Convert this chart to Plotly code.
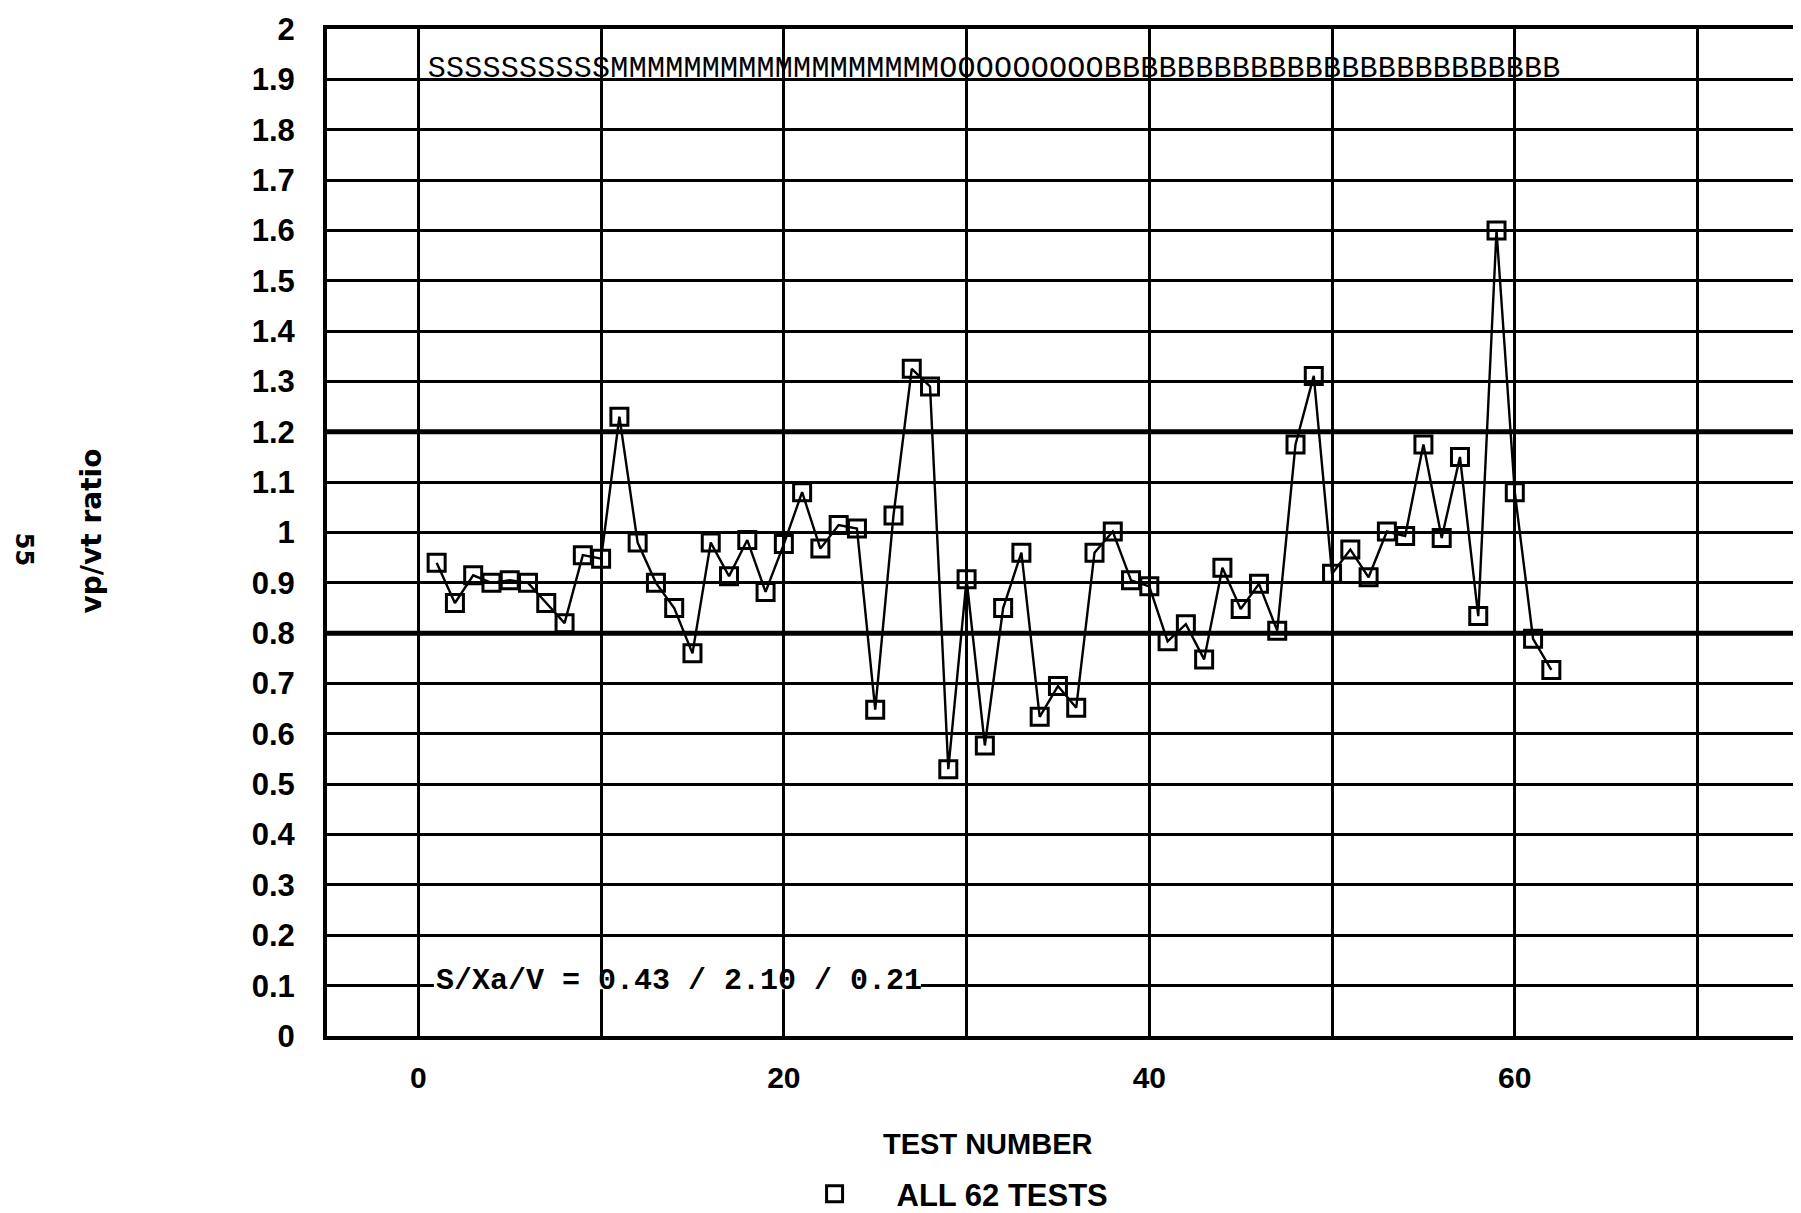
import plotly.graph_objects as go

# ---- data ----
test_number = list(range(1, 63))
vp_vt_ratio = [
    0.94, 0.86, 0.915, 0.90, 0.905, 0.90, 0.86, 0.82, 0.955, 0.948,
    1.23, 0.98, 0.90, 0.85, 0.76, 0.98, 0.913, 0.985, 0.882, 0.977,
    1.08, 0.968, 1.015, 1.008, 0.648, 1.034, 1.325, 1.29, 0.53, 0.907,
    0.577, 0.85, 0.96, 0.634, 0.695, 0.652, 0.96, 1.002, 0.905, 0.893,
    0.784, 0.818, 0.748, 0.93, 0.848, 0.898, 0.805, 1.175, 1.311, 0.918,
    0.966, 0.911, 1.002, 0.993, 1.175, 0.989, 1.15, 0.834, 1.60, 1.08,
    0.789, 0.727,
]
test_codes = list(
    "SSSSSSSSSS"
    + "MMMMMMMMMMMMMMMMMM"
    + "OOOOOOOOO"
    + "BBBBBBBBBBBBBBBBBBBBBBBBB"
)
code_row_y = 1.92
limit_lines = [0.8, 1.2]
x_ticks = [0, 20, 40, 60]
y_ticks = [round(i * 0.1, 1) for i in range(21)]
y_tick_text = ["0", "0.1", "0.2", "0.3", "0.4", "0.5", "0.6", "0.7", "0.8", "0.9",
               "1", "1.1", "1.2", "1.3", "1.4", "1.5", "1.6", "1.7", "1.8", "1.9", "2"]
stats_text = "S/Xa/V = 0.43 / 2.10 / 0.21"
stats_pos = (0.85, 0.109)
legend_name = "ALL 62 TESTS"

BOLD = "Liberation Sans, Arial, sans-serif"

fig = go.Figure()

fig.add_trace(go.Scatter(
    x=test_number, y=vp_vt_ratio, mode="lines",
    line=dict(color="black", width=2.4), showlegend=False, hoverinfo="skip",
))
fig.add_trace(go.Scatter(
    x=test_number, y=vp_vt_ratio, mode="markers", name="     " + legend_name,
    marker=dict(symbol="square-open", size=17, color="black",
                line=dict(color="black", width=3)),
))
fig.add_trace(go.Scatter(
    x=test_number, y=[code_row_y] * len(test_number), mode="text",
    text=test_codes, textposition="middle center",
    textfont=dict(family="Liberation Mono, DejaVu Sans Mono, monospace",
                  size=30, color="black"),
    showlegend=False, hoverinfo="skip",
))

for v in limit_lines:
    fig.add_shape(type="line", xref="paper", yref="y", x0=0, x1=1, y0=v, y1=v,
                  line=dict(color="black", width=5), layer="between")

# mask of the 0.1 grid line under the statistics text
fig.add_shape(type="rect", xref="x", yref="y", x0=stats_pos[0], x1=27.5,
              y0=0.093, y1=0.107, fillcolor="white", line=dict(width=0),
              layer="between")

fig.add_annotation(
    x=stats_pos[0], y=stats_pos[1], xref="x", yref="y", xanchor="left",
    yanchor="middle", text=stats_text, showarrow=False,
    font=dict(family="Liberation Mono, DejaVu Sans Mono, monospace",
              size=30, color="black", weight="bold"),
)

fig.add_annotation(
    x=-0.1586, y=0.502, xref="paper", yref="paper", text="vp/vt ratio",
    textangle=-90, showarrow=False, xanchor="center", yanchor="middle",
    font=dict(family="DejaVu Sans, sans-serif", size=28, color="black",
              weight="bold"),
)
fig.add_annotation(
    x=-0.2045, y=0.483, xref="paper", yref="paper", text="55",
    textangle=90, showarrow=False, xanchor="center", yanchor="middle",
    font=dict(family="DejaVu Sans, sans-serif", size=24, color="black",
              weight="bold"),
)
fig.add_annotation(
    x=0.446, y=-0.107, xref="paper", yref="paper", text="TEST NUMBER",
    showarrow=False, xanchor="center", yanchor="middle",
    font=dict(family=BOLD, size=29, color="black", weight="bold"),
)

fig.update_layout(
    width=1801, height=1213,
    margin=dict(l=319, r=0, t=21, b=184),
    paper_bgcolor="white", plot_bgcolor="white",
    showlegend=True,
    legend=dict(
        orientation="h", x=0.329, y=-0.157, xanchor="left", yanchor="middle",
        font=dict(family=BOLD, size=31, color="black", weight="bold"),
        bgcolor="rgba(0,0,0,0)",
    ),
    xaxis=dict(
        range=[-5, 76.1], tickvals=x_ticks, ticktext=[str(t) for t in x_ticks],
        showgrid=True, gridcolor="black", gridwidth=2.6,
        minor=dict(dtick=10, tick0=0, showgrid=True, gridcolor="black", gridwidth=2.6),
        showline=True, linecolor="black", linewidth=4, mirror=True,
        zeroline=False, ticks="", ticklabelstandoff=12,
        tickfont=dict(family=BOLD, size=30, color="black", weight="bold"),
    ),
    yaxis=dict(
        range=[0, 2], tickvals=y_ticks, ticktext=y_tick_text,
        showgrid=True, gridcolor="black", gridwidth=3,
        showline=True, linecolor="black", linewidth=4, mirror=False,
        zeroline=False, ticks="", ticklabelstandoff=22,
        tickfont=dict(family=BOLD, size=31, color="black", weight="bold"),
    ),
)

fig.write_html("out.html")
